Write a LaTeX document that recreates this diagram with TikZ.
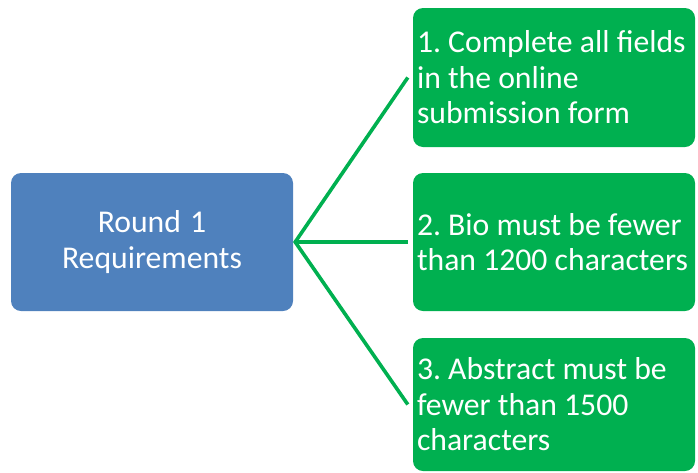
\documentclass[tikz,border=0pt]{standalone}
\usepackage{fontspec}
\setmainfont{Carlito}
\frenchspacing
\definecolor{boxblue}{HTML}{4F81BD}
\definecolor{boxgreen}{HTML}{00B050}
\begin{document}
\begin{tikzpicture}[x=1pt,y=-1pt,
  txt/.style={font=\fontsize{31.7}{35.5}\selectfont, text=white},
  mainbox/.style={txt, fill=boxblue, rounded corners=10pt, minimum width=282pt, minimum height=138pt, align=center, inner sep=0pt},
  itembox/.style={txt, fill=boxgreen, rounded corners=10pt, text width=274pt, inner sep=4pt, align=flush left, minimum width=282pt},
  link/.style={draw=boxgreen, line width=3.6pt}]
\useasboundingbox (0,0) rectangle (698,472);
\node[mainbox] (m) at (152,242) {Round\hspace{2pt} 1\\Requirements};
\node[itembox, minimum height=139pt] (g1) at (554,77.5) {1. Complete all fields\\in the online\\submission form};
\node[itembox, minimum height=138pt] (g2) at (554,242) {2. Bio must be fewer\\than 1200 characters};
\node[itembox, minimum height=133pt] (g3) at (554,404.5) {3. Abstract must be\\fewer than 1500\\characters};
\coordinate (hub) at ([xshift=2pt]m.east);
\draw[link] ([xshift=-5pt]g1.west) -- (hub) -- ([xshift=-5pt]g3.west);
\draw[link] (hub) -- ([xshift=-5pt]g2.west);
\end{tikzpicture}
\end{document}
